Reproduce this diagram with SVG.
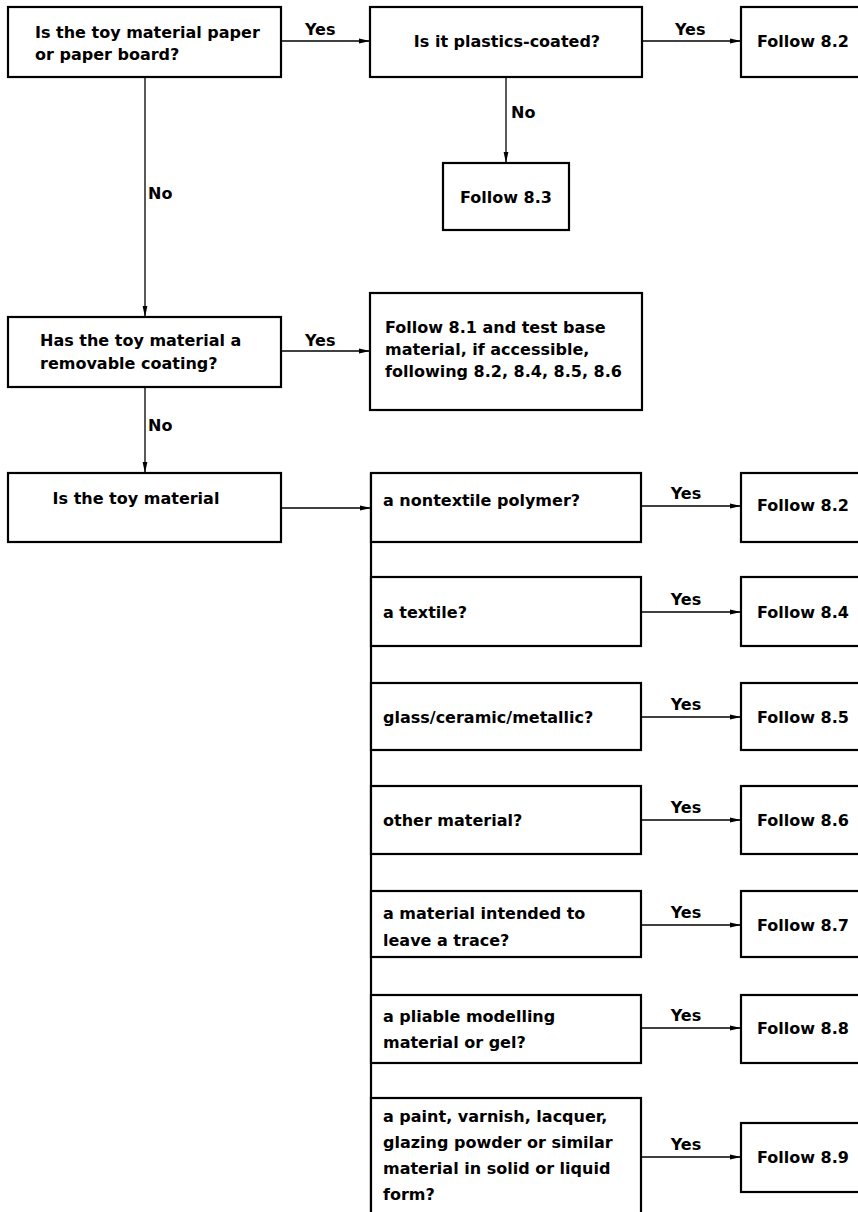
<svg xmlns="http://www.w3.org/2000/svg" width="858" height="1212" viewBox="0 0 858 1212">
<style>
.box{fill:#fff;stroke:#000;stroke-width:2.2}
.t{font-family:"DejaVu Sans","Liberation Sans",sans-serif;font-weight:bold;font-size:16px;fill:#000}
.c{text-anchor:middle}
.ln{stroke:#000;stroke-width:1.3;fill:none}
.bus{stroke:#000;stroke-width:2.2;fill:none}
</style>
<defs>
<marker id="ah" markerUnits="userSpaceOnUse" markerWidth="11" markerHeight="6" refX="11" refY="3" orient="auto">
<path d="M0,0.6 L11,3 L0,5.4 Z" fill="#000"/>
</marker>
</defs>
<rect width="858" height="1212" fill="#fff"/>

<g id="connectors">
<line class="bus" x1="371" y1="473" x2="371" y2="1212"/>
<line class="ln" x1="281" y1="41" x2="370" y2="41" marker-end="url(#ah)"/>
<line class="ln" x1="642" y1="41" x2="741" y2="41" marker-end="url(#ah)"/>
<line class="ln" x1="506" y1="77" x2="506" y2="163" marker-end="url(#ah)"/>
<line class="ln" x1="145" y1="77" x2="145" y2="317" marker-end="url(#ah)"/>
<line class="ln" x1="281" y1="351" x2="370" y2="351" marker-end="url(#ah)"/>
<line class="ln" x1="145" y1="387" x2="145" y2="473" marker-end="url(#ah)"/>
<line class="ln" x1="281" y1="508" x2="371" y2="508" marker-end="url(#ah)"/>
<line class="ln" x1="641" y1="506" x2="741" y2="506" marker-end="url(#ah)"/>
<line class="ln" x1="641" y1="612" x2="741" y2="612" marker-end="url(#ah)"/>
<line class="ln" x1="641" y1="717" x2="741" y2="717" marker-end="url(#ah)"/>
<line class="ln" x1="641" y1="820" x2="741" y2="820" marker-end="url(#ah)"/>
<line class="ln" x1="641" y1="925" x2="741" y2="925" marker-end="url(#ah)"/>
<line class="ln" x1="641" y1="1028" x2="741" y2="1028" marker-end="url(#ah)"/>
<line class="ln" x1="641" y1="1157" x2="741" y2="1157" marker-end="url(#ah)"/>
<text class="t" x="305" y="35">Yes</text>
<text class="t" x="675" y="35">Yes</text>
<text class="t" x="511" y="118">No</text>
<text class="t" x="148" y="199">No</text>
<text class="t" x="305" y="346">Yes</text>
<text class="t" x="148" y="431">No</text>
<text class="t c" x="686" y="499">Yes</text>
<text class="t c" x="686" y="605">Yes</text>
<text class="t c" x="686" y="710">Yes</text>
<text class="t c" x="686" y="813">Yes</text>
<text class="t c" x="686" y="918">Yes</text>
<text class="t c" x="686" y="1021">Yes</text>
<text class="t c" x="686" y="1150">Yes</text>
</g>

<g id="q-paper"><rect class="box" x="8" y="7" width="273" height="70"/>
<text class="t" x="35" y="38">Is the toy material paper</text>
<text class="t" x="35" y="60">or paper board?</text></g>

<g id="q-plastics"><rect class="box" x="370" y="7" width="272" height="70"/>
<text class="t c" x="507" y="47">Is it plastics-coated?</text></g>

<g id="f82a"><rect class="box" x="741" y="7" width="130" height="70"/>
<text class="t" x="757" y="47">Follow 8.2</text></g>

<g id="f83"><rect class="box" x="443" y="163" width="126" height="67"/>
<text class="t c" x="506" y="203">Follow 8.3</text></g>

<g id="q-coating"><rect class="box" x="8" y="317" width="273" height="70"/>
<text class="t" x="40" y="346">Has the toy material a</text>
<text class="t" x="40" y="369">removable coating?</text></g>

<g id="f81"><rect class="box" x="370" y="293" width="272" height="117"/>
<text class="t" x="385" y="333">Follow 8.1 and test base</text>
<text class="t" x="385" y="355">material, if accessible,</text>
<text class="t" x="385" y="377">following 8.2, 8.4, 8.5, 8.6</text></g>

<g id="q-material"><rect class="box" x="8" y="473" width="273" height="69"/>
<text class="t c" x="136" y="504">Is the toy material</text></g>

<g id="q-polymer"><rect class="box" x="371" y="473" width="270" height="69"/>
<text class="t" x="383" y="506">a nontextile polymer?</text></g>
<g id="f82b"><rect class="box" x="741" y="473" width="130" height="69"/>
<text class="t" x="757" y="511">Follow 8.2</text></g>

<g id="q-textile"><rect class="box" x="371" y="577" width="270" height="69"/>
<text class="t" x="383" y="618">a textile?</text></g>
<g id="f84"><rect class="box" x="741" y="577" width="130" height="69"/>
<text class="t" x="757" y="618">Follow 8.4</text></g>

<g id="q-glass"><rect class="box" x="371" y="683" width="270" height="67"/>
<text class="t" x="383" y="723">glass/ceramic/metallic?</text></g>
<g id="f85"><rect class="box" x="741" y="683" width="130" height="67"/>
<text class="t" x="757" y="723">Follow 8.5</text></g>

<g id="q-other"><rect class="box" x="371" y="786" width="270" height="68"/>
<text class="t" x="383" y="826">other material?</text></g>
<g id="f86"><rect class="box" x="741" y="786" width="130" height="68"/>
<text class="t" x="757" y="826">Follow 8.6</text></g>

<g id="q-trace"><rect class="box" x="371" y="891" width="270" height="66"/>
<text class="t" x="383" y="919">a material intended to</text>
<text class="t" x="383" y="946">leave a trace?</text></g>
<g id="f87"><rect class="box" x="741" y="891" width="130" height="66"/>
<text class="t" x="757" y="931">Follow 8.7</text></g>

<g id="q-pliable"><rect class="box" x="371" y="995" width="270" height="68"/>
<text class="t" x="383" y="1022">a pliable modelling</text>
<text class="t" x="383" y="1048">material or gel?</text></g>
<g id="f88"><rect class="box" x="741" y="995" width="130" height="68"/>
<text class="t" x="757" y="1034">Follow 8.8</text></g>

<g id="q-paint"><rect class="box" x="371" y="1098" width="270" height="130"/>
<text class="t" x="383" y="1122">a paint, varnish, lacquer,</text>
<text class="t" x="383" y="1148">glazing powder or similar</text>
<text class="t" x="383" y="1174">material in solid or liquid</text>
<text class="t" x="383" y="1200">form?</text></g>
<g id="f89"><rect class="box" x="741" y="1123" width="130" height="69"/>
<text class="t" x="757" y="1163">Follow 8.9</text></g>
</svg>
